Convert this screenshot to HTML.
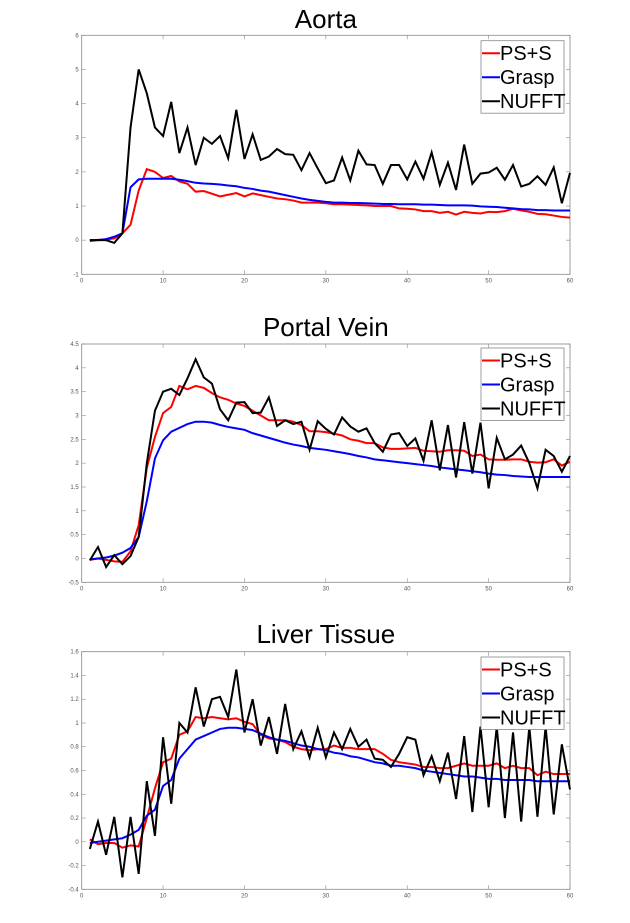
<!DOCTYPE html>
<html><head><meta charset="utf-8"><style>
html,body{margin:0;padding:0;background:#fff;width:630px;height:923px;overflow:hidden}
svg{display:block;font-family:"Liberation Sans",sans-serif}
</style></head><body>
<svg id="chart" width="630" height="923" viewBox="0 0 630 923" xmlns="http://www.w3.org/2000/svg"></svg>
<script>
const xValues = Array.from({length:60},(_, i)=>i+1);
const aortaPS = [0,0.01,0.02,0.05,0.2,0.45,1.45,2.08,2.0,1.82,1.88,1.72,1.65,1.42,1.44,1.36,1.28,1.33,1.38,1.28,1.37,1.32,1.27,1.22,1.2,1.16,1.1,1.1,1.1,1.08,1.05,1.05,1.04,1.03,1.02,1.0,1.0,1.0,0.93,0.92,0.9,0.85,0.85,0.8,0.83,0.75,0.83,0.8,0.78,0.83,0.82,0.85,0.92,0.87,0.83,0.77,0.76,0.72,0.68,0.66];
const aortaGrasp = [-0.02,0,0.03,0.1,0.2,1.55,1.78,1.8,1.8,1.8,1.8,1.77,1.73,1.68,1.66,1.65,1.63,1.6,1.58,1.53,1.5,1.45,1.42,1.37,1.32,1.27,1.22,1.18,1.15,1.12,1.1,1.1,1.09,1.09,1.08,1.07,1.06,1.06,1.05,1.05,1.05,1.04,1.04,1.03,1.02,1.02,1.02,1.01,0.99,0.98,0.97,0.95,0.93,0.91,0.9,0.88,0.88,0.87,0.87,0.87];
const aortaNufft = [0,0,0,-0.08,0.2,3.3,5.0,4.3,3.3,3.05,4.05,2.55,3.3,2.2,3.0,2.82,3.05,2.4,3.82,2.38,3.1,2.35,2.45,2.67,2.52,2.5,2.05,2.55,2.1,1.67,1.75,2.42,1.75,2.62,2.22,2.2,1.65,2.2,2.2,1.78,2.3,1.8,2.57,1.62,2.27,1.47,2.8,1.65,1.95,1.98,2.12,1.77,2.2,1.57,1.65,1.87,1.62,2.13,1.08,1.97];
const portalPS = [-0.03,0,-0.03,-0.06,-0.07,0.15,0.7,1.9,2.55,3.05,3.18,3.62,3.55,3.62,3.58,3.47,3.38,3.33,3.25,3.2,3.1,3.0,2.9,2.9,2.9,2.87,2.8,2.67,2.67,2.65,2.62,2.58,2.5,2.47,2.42,2.42,2.33,2.3,2.3,2.31,2.32,2.26,2.25,2.24,2.27,2.27,2.26,2.15,2.18,2.08,2.07,2.07,2.08,2.08,2.03,2.01,2.02,2.08,1.95,2.03];
const portalGrasp = [-0.02,0,0.02,0.06,0.12,0.22,0.45,1.2,2.1,2.48,2.66,2.74,2.82,2.87,2.87,2.85,2.8,2.76,2.73,2.7,2.63,2.58,2.53,2.48,2.43,2.39,2.36,2.32,2.3,2.28,2.25,2.22,2.19,2.15,2.12,2.08,2.06,2.04,2.02,2.0,1.98,1.96,1.94,1.91,1.89,1.87,1.85,1.83,1.81,1.78,1.76,1.75,1.73,1.72,1.71,1.71,1.71,1.71,1.71,1.71];
const portalNufft = [-0.04,0.24,-0.18,0.07,-0.12,0.05,0.45,2.0,3.1,3.5,3.56,3.43,3.78,4.18,3.8,3.67,3.13,2.9,3.27,3.28,3.05,3.06,3.38,2.78,2.9,2.82,2.87,2.28,2.88,2.72,2.6,2.96,2.77,2.66,2.73,2.42,2.24,2.6,2.63,2.36,2.52,2.05,2.9,1.85,2.8,1.7,2.86,1.78,2.85,1.47,2.53,2.08,2.18,2.37,2.0,1.47,2.28,2.15,1.82,2.15];
const liverPS = [0.02,-0.02,-0.01,-0.01,-0.05,-0.03,-0.04,0.2,0.45,0.67,0.7,0.9,0.93,1.05,1.04,1.05,1.04,1.03,1.04,1.01,0.99,0.9,0.87,0.86,0.84,0.8,0.78,0.77,0.78,0.78,0.81,0.79,0.79,0.78,0.78,0.78,0.74,0.69,0.67,0.66,0.65,0.63,0.63,0.62,0.62,0.64,0.66,0.64,0.64,0.64,0.66,0.62,0.64,0.62,0.62,0.56,0.59,0.57,0.57,0.57];
const liverGrasp = [-0.01,0,0.01,0.02,0.03,0.06,0.1,0.22,0.27,0.47,0.52,0.7,0.78,0.86,0.89,0.92,0.95,0.96,0.96,0.95,0.94,0.91,0.88,0.86,0.85,0.83,0.81,0.8,0.78,0.77,0.75,0.74,0.72,0.71,0.69,0.67,0.66,0.64,0.64,0.63,0.62,0.6,0.59,0.58,0.57,0.56,0.55,0.55,0.54,0.53,0.53,0.52,0.52,0.52,0.52,0.51,0.51,0.51,0.51,0.51];
const liverNufft = [-0.06,0.17,-0.11,0.21,-0.3,0.21,-0.27,0.51,0.05,0.88,0.32,1.0,0.92,1.3,0.97,1.2,1.22,1.05,1.45,0.92,1.2,0.81,1.05,0.74,1.16,0.78,0.93,0.71,0.96,0.71,0.92,0.78,0.95,0.8,0.86,0.7,0.69,0.63,0.74,0.88,0.86,0.56,0.72,0.51,0.75,0.36,0.89,0.25,0.97,0.29,0.97,0.2,0.92,0.17,0.97,0.21,0.97,0.23,0.82,0.44];
const xTicks = [0,10,20,30,40,50,60];
const aortaYTicks = [-1,0,1,2,3,4,5,6];
const portalYTicks = [-0.5,0,0.5,1,1.5,2,2.5,3,3.5,4,4.5];
const liverYTicks = [-0.4,-0.2,0,0.2,0.4,0.6,0.8,1,1.2,1.4,1.6];
const seriesNames = ["PS+S","Grasp","NUFFT"];
const seriesColors = ["#ff0000","#0000ff","#000000"];

const NS="http://www.w3.org/2000/svg";
const svg=document.getElementById('chart');
function mk(tag,attrs,parent){const e=document.createElementNS(NS,tag);for(const k in attrs)e.setAttribute(k,attrs[k]);(parent||svg).appendChild(e);return e;}

const panels=[
 {key:'aorta',title:'Aorta',top:35.3,bottom:274.3,ymin:-1,ymax:6,yt:aortaYTicks,data:[aortaPS,aortaGrasp,aortaNufft],titleY:28,legTop:40.7},
 {key:'portal-vein',title:'Portal Vein',top:344,bottom:582.3,ymin:-0.5,ymax:4.5,yt:portalYTicks,data:[portalPS,portalGrasp,portalNufft],titleY:336,legTop:348},
 {key:'liver-tissue',title:'Liver Tissue',top:651.7,bottom:889.3,ymin:-0.4,ymax:1.6,yt:liverYTicks,data:[liverPS,liverGrasp,liverNufft],titleY:643,legTop:657}
];
const L=81.7,R=570;
panels.forEach(p=>{
 const g=mk('g',{});
 
 
 const xs=v=>L+(v-0)/(60-0)*(R-L);
 const ys=v=>p.bottom-(v-p.ymin)/(p.ymax-p.ymin)*(p.bottom-p.top);
 const t=mk('text',{x:(L+R)/2,y:p.titleY,'text-anchor':'middle','font-size':'26',fill:'#000'},g);
 t.textContent=p.title;
 
 
 const ax=mk('rect',{x:L,y:p.top,width:R-L,height:p.bottom-p.top,fill:'#fff',stroke:'#888','stroke-width':'0.8'},g);
 
 
 xTicks.forEach(v=>{
  const x=xs(v);
  mk('line',{x1:x,x2:x,y1:p.bottom,y2:p.bottom-4,stroke:'#888','stroke-width':'0.6'},g);
  mk('line',{x1:x,x2:x,y1:p.top,y2:p.top+4,stroke:'#888','stroke-width':'0.6'},g);
  const tl=mk('text',{x:x,y:p.bottom+8,'text-anchor':'middle','font-size':'6',fill:'#555'},g);
  tl.textContent=v;
  
  
 });
 p.yt.forEach(v=>{
  const y=ys(v);
  mk('line',{x1:L,x2:L+4,y1:y,y2:y,stroke:'#888','stroke-width':'0.6'},g);
  mk('line',{x1:R,x2:R-4,y1:y,y2:y,stroke:'#888','stroke-width':'0.6'},g);
  const tl=mk('text',{x:L-3,y:y+2,'text-anchor':'end','font-size':'6',fill:'#555'},g);
  tl.textContent=v;
  
  
 });
 p.data.forEach((arr,si)=>{
  const pts=arr.map((v,i)=>xs(xValues[i]).toFixed(2)+','+ys(v).toFixed(2)).join(' ');
  const pl=mk('polyline',{points:pts,fill:'none',stroke:seriesColors[si],'stroke-width':'2','stroke-linejoin':'miter'},g);
  
  
 });
 const lg=mk('g',{},g);
 
 
 mk('rect',{x:481,y:p.legTop,width:83,height:72.5,fill:'#fff',stroke:'#888','stroke-width':'0.8'},lg);
 seriesNames.forEach((n,si)=>{
  const cy=p.legTop+12.5+si*24;
  mk('line',{x1:482,x2:500,y1:cy,y2:cy,stroke:seriesColors[si],'stroke-width':'2'},lg);
  const lt=mk('text',{x:500,y:cy+7,'font-size':'20',fill:'#000'},lg);
  lt.textContent=n;
  
  
 });
});
</script>
</body></html>
